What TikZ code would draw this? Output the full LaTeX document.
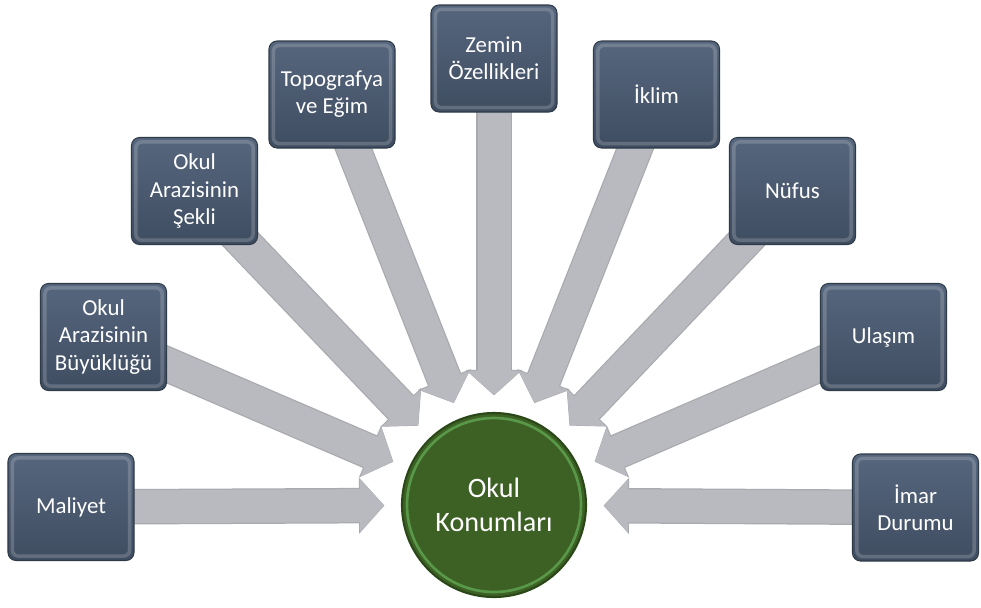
\documentclass[tikz,border=0pt]{standalone}
\usepackage{fontspec}
\setmainfont{Carlito}
\usetikzlibrary{arrows.meta,backgrounds}

\definecolor{boxtop}{HTML}{56667D}
\definecolor{boxbot}{HTML}{3F4D61}
\definecolor{boxedge}{HTML}{2F3A48}
\definecolor{konum}{HTML}{3D6125}
\definecolor{konumedge}{HTML}{2A4718}
\definecolor{okgri}{HTML}{B8BABF}
\definecolor{okkenar}{HTML}{A8AAAF}

\tikzset{
  kutu/.style={rounded corners=0.16cm, minimum width=2.52cm, minimum height=2.14cm,
    top color=boxtop, bottom color=boxbot, draw=boxedge, line width=0.6pt,
    text=white, align=center, font=\fontsize{13}{15.5}\selectfont,
    path picture={\draw[white, opacity=.18, line width=2pt, rounded corners=0.12cm]
      ([shift={(2.5pt,2.5pt)}]path picture bounding box.south west) rectangle
      ([shift={(-2.5pt,-2.5pt)}]path picture bounding box.north east);}},
  merkez/.style={circle, minimum size=3.68cm, fill=konum, draw=konumedge, line width=1.2pt,
    text=white, align=center, font=\fontsize{16}{19}\selectfont,
    path picture={\draw[green!45!white, opacity=.35, line width=1.5pt]
      (path picture bounding box.center) circle (1.74cm);}},
  okalt/.style={draw=okkenar, line width=0.71cm, shorten >=0.33cm,
    -{Triangle[length=0.51cm, width=1.1cm]}},
  ok/.style={draw=okgri, line width=0.66cm, shorten >=0.34cm,
    -{Triangle[length=0.48cm, width=1.04cm]}}
}

\begin{document}
\begin{tikzpicture}
\useasboundingbox (0,0) rectangle (19.62,-12.14);

\node[merkez] (ctr) at (9.88,-10.10) {Okul\\Konumları};

\node[kutu] (m) at (1.42,-10.14) {Maliyet};
\node[kutu] (b) at (2.07,-6.74) {Okul\\Arazisinin\\Büyüklüğü};
\node[kutu] (s) at (3.89,-3.82) {Okul\\Arazisinin\\Şekli};
\node[kutu] (t) at (6.64,-1.89) {Topografya\\ve Eğim};
\node[kutu] (z) at (9.88,-1.17) {Zemin\\Özellikleri};
\node[kutu] (i) at (13.13,-1.89) {İklim};
\node[kutu] (n) at (15.85,-3.82) {Nüfus};
\node[kutu] (u) at (17.67,-6.74) {Ulaşım};
\node[kutu] (d) at (18.31,-10.15) {İmar\\Durumu};

\begin{pgfonlayer}{background}
\foreach \k in {m,b,s,t,z,i,n,u,d}
{
  \draw[okalt] (\k.center) -- (ctr);
  \draw[ok] (\k.center) -- (ctr);
}
\end{pgfonlayer}
\end{tikzpicture}
\end{document}
